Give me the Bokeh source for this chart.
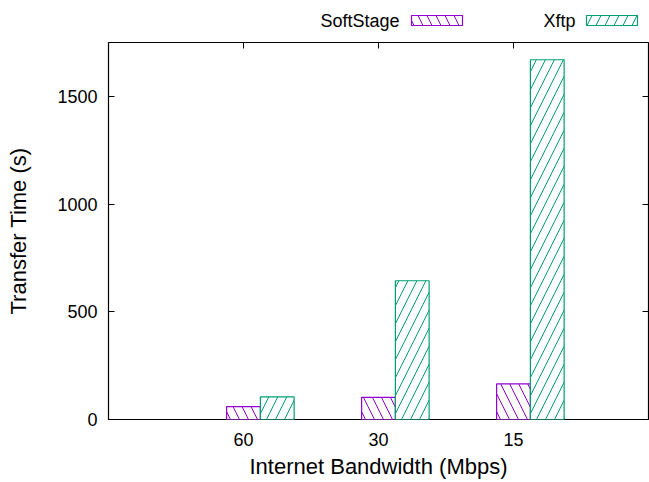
from bokeh.plotting import figure
from bokeh.layouts import column
from bokeh.models import Range1d, FixedTicker, LinearAxis, ColumnDataSource
from bokeh.core.properties import value
from bokeh.transform import dodge
from bokeh.embed import file_html
from bokeh.resources import INLINE

# Transfer time (s) per internet bandwidth setting
bandwidth = ["60", "30", "15"]
softstage = [60, 103, 165]
xftp = [105, 644, 1670]
y_ticks = [0, 500, 1000, 1500]

series_names = ["SoftStage", "Xftp"]
series_colors = ["#9400D3", "#009E73"]
series_hatch = ["\\", "/"]

FONT = "Liberation Sans"
BAR_W = 0.25
HATCH_SCALE = 18
W = 649
BORDER_L = 108
BORDER_R = 1
KEY_H = 41          # strip holding the key, above the plot
PLOT_H = 482 - KEY_H

positions = list(range(len(bandwidth)))
src = ColumnDataSource(dict(pos=positions, softstage=softstage, xftp=xftp))

# ---- key strip: names on the left of their hatched swatches ----
# its frame lines up with the plot frame below, so x is in page pixels
key = figure(width=W, height=KEY_H, output_backend="svg", toolbar_location=None,
             x_range=Range1d(BORDER_L, W - BORDER_R), y_range=Range1d(KEY_H, 0),
             min_border_left=BORDER_L, min_border_right=BORDER_R,
             min_border_top=0, min_border_bottom=0,
             background_fill_color="white", border_fill_color="white")
key.axis.visible = False
key.grid.visible = False
key.outline_line_color = None

key_text_right = [399, 575]
key_box_left = [411, 586]
key_box_w = 51
for name, col, hatch, tx, bx in zip(series_names, series_colors, series_hatch,
                                    key_text_right, key_box_left):
    key.text(x=[tx], y=[20], text=[name], text_align="right",
             text_baseline="middle", text_font=value(FONT),
             text_font_size="18px", text_color="black")
    key.quad(left=[bx], right=[bx + key_box_w], top=[15], bottom=[25],
             fill_color="white", line_color=col, line_width=1.2,
             hatch_pattern=hatch, hatch_color=col, hatch_scale=HATCH_SCALE,
             hatch_weight=1)

# ---- main bar chart ----
p = figure(width=W, height=PLOT_H, output_backend="svg", toolbar_location=None,
           x_range=Range1d(-1, 3), y_range=Range1d(0, 1750),
           min_border_left=BORDER_L, min_border_right=BORDER_R,
           min_border_top=1, min_border_bottom=63,
           background_fill_color="white", border_fill_color="white")
p.xgrid.visible = False
p.ygrid.visible = False
p.outline_line_color = "black"
p.outline_line_width = 1.2

bar_common = dict(width=BAR_W, source=src, fill_color="white", line_width=1.2,
                  hatch_scale=HATCH_SCALE, hatch_weight=1)
p.vbar(x=dodge("pos", 0.0), top="softstage", line_color=series_colors[0],
       hatch_pattern=series_hatch[0], hatch_color=series_colors[0], **bar_common)
p.vbar(x=dodge("pos", BAR_W), top="xftp", line_color=series_colors[1],
       hatch_pattern=series_hatch[1], hatch_color=series_colors[1], **bar_common)

# bottom axis: bandwidth categories
xa = p.xaxis[0]
xa.ticker = FixedTicker(ticks=positions)
xa.major_label_overrides = {i: b for i, b in zip(positions, bandwidth)}
xa.axis_label = "Internet Bandwidth (Mbps)"
xa.major_tick_in = 0
xa.major_tick_out = 0
xa.minor_tick_line_color = None
xa.axis_line_color = None
xa.major_label_standoff = 13
xa.axis_label_standoff = 5
xa.major_label_text_font = FONT
xa.major_label_text_font_size = "18px"
xa.major_label_text_color = "black"
xa.axis_label_text_font = FONT
xa.axis_label_text_font_size = "22px"
xa.axis_label_text_font_style = "normal"
xa.axis_label_text_color = "black"

# left axis: transfer time
ya = p.yaxis[0]
ya.ticker = FixedTicker(ticks=y_ticks)
ya.axis_label = "Transfer Time (s)"
ya.major_tick_in = 6
ya.major_tick_out = 0
ya.major_tick_line_color = "black"
ya.minor_tick_line_color = None
ya.axis_line_color = None
ya.major_label_standoff = 11
ya.axis_label_standoff = 23
ya.major_label_text_font = FONT
ya.major_label_text_font_size = "18px"
ya.major_label_text_color = "black"
ya.axis_label_text_font = FONT
ya.axis_label_text_font_size = "22px"
ya.axis_label_text_font_style = "normal"
ya.axis_label_text_color = "black"


# mirrored tick marks on top and right, without labels
def mirror_axis(ticks):
    return LinearAxis(ticker=FixedTicker(ticks=ticks), major_tick_in=6,
                      major_tick_out=0, major_label_text_color=None,
                      major_label_text_font_size="0px",
                      major_label_standoff=0, axis_line_color=None,
                      minor_tick_line_color=None,
                      major_tick_line_color="black")


p.add_layout(mirror_axis(positions), "above")
p.add_layout(mirror_axis(y_ticks), "right")

layout = column(key, p, spacing=0)
open("out.html", "w").write(file_html(layout, INLINE))
